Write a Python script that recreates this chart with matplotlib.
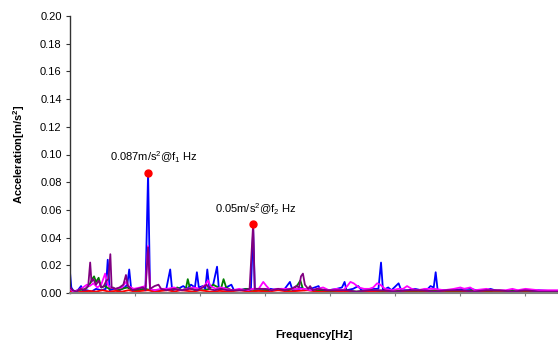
import matplotlib
matplotlib.use("Agg")
import matplotlib.pyplot as plt

plt.rcParams['font.family'] = ['Liberation Sans', 'DejaVu Sans']
plt.rcParams['mathtext.fontset'] = 'custom'
plt.rcParams['mathtext.rm'] = 'Liberation Sans'
plt.rcParams['mathtext.it'] = 'Liberation Sans:italic'
plt.rcParams['mathtext.bf'] = 'Liberation Sans:bold'

# ---- data (frequency in arbitrary units 0..750, acceleration in m/s^2) ----
blue_x = [0, 2, 6, 12, 17, 20, 26, 33, 40, 48, 55, 58, 61, 68, 76, 84, 88, 91, 94, 102,
          110, 116, 120, 123, 130, 140, 148, 154, 157, 166, 174, 180, 186, 192, 195, 198,
          204, 208, 211, 214, 220, 226, 229, 236, 248, 252, 262, 270, 278, 281.5, 284, 295,
          308, 320, 330, 338, 342, 350, 356, 360, 370, 382, 385, 398, 410, 418, 422, 425,
          435, 443, 448, 458, 466, 474, 478, 481, 489, 494, 505, 509, 520, 530, 540, 550,
          554, 559, 562, 565, 575, 590, 605, 615, 625, 640, 646, 660, 680, 700, 720, 750]
blue_y = [0.015, 0.004, 0.001, 0.002, 0.005, 0.001, 0.002, 0.001, 0.003, 0.002, 0.003, 0.024,
          0.002, 0.003, 0.002, 0.004, 0.006, 0.017, 0.003, 0.002, 0.004, 0.003, 0.087, 0.002,
          0.001, 0.002, 0.003, 0.017, 0.002, 0.003, 0.005, 0.003, 0.006, 0.004, 0.015, 0.004,
          0.005, 0.003, 0.017, 0.004, 0.006, 0.019, 0.002, 0.003, 0.006, 0.002, 0.002, 0.003,
          0.002, 0.046, 0.002, 0.002, 0.003, 0.002, 0.003, 0.008, 0.002, 0.002, 0.004, 0.002,
          0.003, 0.005, 0.002, 0.002, 0.003, 0.004, 0.008, 0.002, 0.003, 0.005, 0.002, 0.002,
          0.003, 0.003, 0.022, 0.002, 0.004, 0.002, 0.007, 0.002, 0.002, 0.003, 0.002, 0.003,
          0.005, 0.004, 0.015, 0.002, 0.002, 0.002, 0.003, 0.003, 0.002, 0.002, 0.003, 0.001,
          0.002, 0.001, 0.002, 0.001]

green_x = [0, 6, 14, 24, 30, 34, 37, 40, 44, 48, 54, 60, 66, 72, 80, 88, 96, 106, 115, 125,
           135, 145, 155, 165, 172, 178, 181, 184, 192, 206, 214, 220, 232, 236, 240, 248,
           260, 272, 284, 296, 310, 325, 336, 344, 350, 354, 358, 368, 380, 400, 420, 440,
           460, 480, 500, 520, 540, 560, 580, 600, 620, 640, 660, 680, 700, 720, 750]
green_y = [0.003, 0.001, 0.002, 0.003, 0.006, 0.010, 0.012, 0.008, 0.011, 0.004, 0.005,
           0.003, 0.004, 0.002, 0.003, 0.004, 0.002, 0.002, 0.003, 0.002, 0.002, 0.003,
           0.002, 0.004, 0.002, 0.003, 0.010, 0.004, 0.002, 0.002, 0.003, 0.006, 0.003,
           0.010, 0.004, 0.002, 0.002, 0.003, 0.002, 0.002, 0.002, 0.003, 0.002, 0.003,
           0.006, 0.009, 0.003, 0.002, 0.002, 0.001, 0.002, 0.001, 0.002, 0.001, 0.002,
           0.001, 0.001, 0.002, 0.001, 0.001, 0.002, 0.001, 0.001, 0.002, 0.001, 0.001, 0.001]

red_x = [0, 10, 20, 30, 40, 50, 60, 70, 80, 90, 100, 110, 120, 130, 140, 150, 160, 170,
         180, 190, 200, 215, 230, 245, 260, 275, 290, 305, 320, 335, 350, 365, 380, 400,
         420, 440, 460, 480, 500, 520, 540, 560, 580, 600, 620, 640, 660, 680, 700, 725, 750]
red_y = [0.001, 0.0005, 0.001, 0.0015, 0.001, 0.002, 0.001, 0.0015, 0.001, 0.002, 0.001,
         0.0015, 0.002, 0.001, 0.0015, 0.002, 0.001, 0.002, 0.0015, 0.001, 0.002, 0.001,
         0.0015, 0.001, 0.002, 0.001, 0.0015, 0.001, 0.002, 0.001, 0.0015, 0.002, 0.001,
         0.0005, 0.001, 0.0005, 0.001, 0.0005, 0.001, 0.0005, 0.0005, 0.001, 0.0005,
         0.0005, 0.001, 0.0005, 0.0005, 0.0005, 0.0005, 0.0005, 0.0005]

magenta_x = [0, 5, 12, 20, 26, 30, 36, 42, 48, 54, 58, 62, 70, 80, 86, 90, 98, 108, 116, 120,
             123, 130, 140, 150, 160, 170, 180, 190, 200, 208, 212, 216, 224, 232, 240, 250,
             260, 270, 281.5, 290, 297, 302, 308, 318, 330, 340, 350, 360, 370, 380, 389,
             398, 410, 420, 426, 431, 436, 444, 452, 460, 466, 472, 477, 484, 495, 505, 512,
             518, 525, 535, 545, 560, 575, 590, 600, 606, 615, 622, 640, 650, 660, 670, 680,
             688, 700, 720, 740, 750]
magenta_y = [0.003, 0.001, 0.002, 0.004, 0.006, 0.005, 0.007, 0.004, 0.006, 0.014, 0.006,
             0.004, 0.003, 0.004, 0.008, 0.005, 0.003, 0.004, 0.005, 0.034, 0.003, 0.002,
             0.003, 0.003, 0.004, 0.002, 0.003, 0.004, 0.003, 0.006, 0.009, 0.005, 0.003,
             0.004, 0.003, 0.002, 0.003, 0.002, 0.003, 0.003, 0.008, 0.005, 0.002, 0.003,
             0.003, 0.003, 0.003, 0.003, 0.002, 0.003, 0.004, 0.002, 0.003, 0.002, 0.005,
             0.008, 0.007, 0.004, 0.003, 0.003, 0.004, 0.007, 0.006, 0.003, 0.002, 0.003,
             0.003, 0.005, 0.003, 0.002, 0.003, 0.003, 0.002, 0.003, 0.004, 0.003, 0.004,
             0.002, 0.003, 0.002, 0.002, 0.002, 0.003, 0.002, 0.003, 0.002, 0.002, 0.002]

purple_x = [0, 4, 10, 16, 22, 28, 31, 33, 36, 40, 44, 48, 52, 56, 59, 62, 64, 70, 76, 82, 86,
            89, 96, 104, 112, 116, 120, 123, 130, 136, 140, 148, 160, 172, 184, 196, 204,
            210, 214, 222, 232, 242, 255, 268, 276, 281.5, 284, 292, 300, 310, 320, 330, 340,
            348, 352, 355, 358, 361, 366, 369, 373, 380, 395, 410, 425, 440, 460, 480, 500,
            520, 540, 560, 580, 600, 620, 640, 660, 680, 700, 720, 750]
purple_y = [0.004, 0.002, 0.001, 0.003, 0.002, 0.005, 0.022, 0.008, 0.010, 0.006, 0.009,
            0.004, 0.005, 0.009, 0.010, 0.028, 0.004, 0.003, 0.004, 0.006, 0.013, 0.005,
            0.002, 0.003, 0.004, 0.002, 0.033, 0.003, 0.005, 0.006, 0.003, 0.002, 0.003,
            0.002, 0.003, 0.002, 0.004, 0.006, 0.003, 0.002, 0.003, 0.002, 0.002, 0.002,
            0.003, 0.050, 0.003, 0.003, 0.003, 0.002, 0.003, 0.002, 0.003, 0.005, 0.004,
            0.012, 0.014, 0.006, 0.003, 0.005, 0.002, 0.003, 0.002, 0.002, 0.002, 0.001,
            0.002, 0.002, 0.001, 0.002, 0.002, 0.001, 0.002, 0.002, 0.001, 0.002, 0.002,
            0.001, 0.002, 0.001, 0.001]

peak_x = [120, 281.5]
peak_y = [0.087, 0.050]
peak_labels = [r"0.087m/s$^{\mathrm{2}}$@f$_{\mathrm{1}}$ Hz", r"0.05m/s$^{\mathrm{2}}$@f$_{\mathrm{2}}$ Hz"]

y_ticks = [0.00, 0.02, 0.04, 0.06, 0.08, 0.10, 0.12, 0.14, 0.16, 0.18, 0.20]
x_ticks = [100, 200, 300, 400, 500, 600, 700]

# ---- figure ----
fig = plt.figure(figsize=(5.58, 3.45), dpi=100)
ax = fig.add_axes([70 / 558, 1 - 293 / 345, 1 - 70 / 558, (293 - 16) / 345])

lw = 1.3
ax.plot(blue_x, blue_y, color='#0000FF', lw=lw, zorder=2)
ax.plot(green_x, green_y, color='#008000', lw=lw, zorder=3)
ax.plot(red_x, red_y, color='#FF0000', lw=lw, zorder=4)
ax.plot(magenta_x, magenta_y, color='#FF00FF', lw=lw, zorder=5)
ax.plot(purple_x, purple_y, color='#800080', lw=lw, zorder=6)
ax.plot(peak_x, peak_y, 'o', color='#FF0000', ms=5, zorder=7, clip_on=False)

ax.text(61.5, 0.098, peak_labels[0], fontsize=8, va='center', ha='left')
ax.text(223, 0.0607, peak_labels[1], fontsize=8, va='center', ha='left')

ax.set_xlim(0, 750)
ax.set_ylim(0, 0.20)
ax.set_yticks(y_ticks)
ax.set_yticklabels([f"{v:.2f}" for v in y_ticks])
ax.set_xticks(x_ticks)
ax.set_xticklabels([])

for s in ['top', 'right']:
    ax.spines[s].set_visible(False)
ax.spines['left'].set_color('#333333')
ax.spines['left'].set_linewidth(1.0)
ax.spines['bottom'].set_color('#808080')
ax.spines['bottom'].set_linewidth(1.5)
ax.spines['bottom'].set_zorder(8)

ax.tick_params(axis='y', direction='out', length=3, width=0.8, color='#333333', labelsize=8, pad=3)
ax.tick_params(axis='x', direction='out', length=2, width=0.8, color='#808080')

ax.set_ylabel(r"Acceleration[m/s$^{\mathbf{2}}$]", fontsize=8, fontweight='bold', va='center')
ax.yaxis.set_label_coords(-0.104, 0.5)
ax.set_xlabel("Frequency[Hz]", fontsize=8, fontweight='bold', va='center')
ax.xaxis.set_label_coords(0.5, -(335 - 293) / 277)

fig.savefig("out.png", dpi=100)
